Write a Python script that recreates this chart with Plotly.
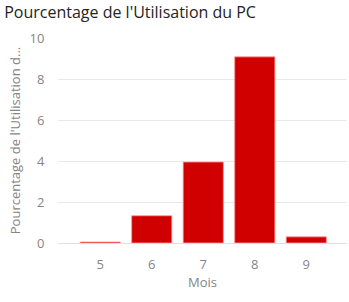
import plotly.graph_objects as go

months = ["5", "6", "7", "8", "9"]
values = [0.05, 1.33, 3.95, 9.08, 0.3]

title_text = "Pourcentage de l'Utilisation du PC"
y_title = "Pourcentage de l'Utilisation d..."
x_title = "Mois"
y_ticks = [0, 2, 4, 6, 8, 10]

font_family = "Open Sans, Noto Sans, sans-serif"
grey = "#858585"

fig = go.Figure(go.Bar(
    x=months, y=values,
    marker=dict(color="#d00000", line=dict(color="rgba(255,150,150,0.8)", width=1)),
))

fig.update_layout(
    width=349, height=302,
    margin=dict(l=58, r=2, t=38, b=59),
    paper_bgcolor="white", plot_bgcolor="white",
    bargap=0.22,
    showlegend=False,
    title=dict(text=title_text, x=0.012, xanchor="left", y=0.96, yanchor="middle",
               font=dict(family=font_family, size=16, color="#252423")),
    font=dict(family=font_family, color=grey),
)
fig.update_xaxes(
    type="category", range=[-0.82, 4.79],
    showgrid=False, showline=False, zeroline=False,
    tickfont=dict(size=13, color=grey),
    ticks="outside", ticklen=9, tickcolor="rgba(0,0,0,0)",
    title=dict(text=x_title, font=dict(size=13, color=grey), standoff=6),
)
fig.update_yaxes(
    range=[0, 10], tickvals=y_ticks,
    showgrid=True, gridcolor="#e8e8e8", gridwidth=1,
    zeroline=True, zerolinecolor="#e0e0e0", zerolinewidth=1,
    showline=False,
    tickfont=dict(size=13, color=grey),
    ticks="outside", ticklen=10, tickcolor="rgba(0,0,0,0)",
    title=dict(text=y_title, font=dict(size=13, color=grey), standoff=5),
)

fig.write_html("out.html")
